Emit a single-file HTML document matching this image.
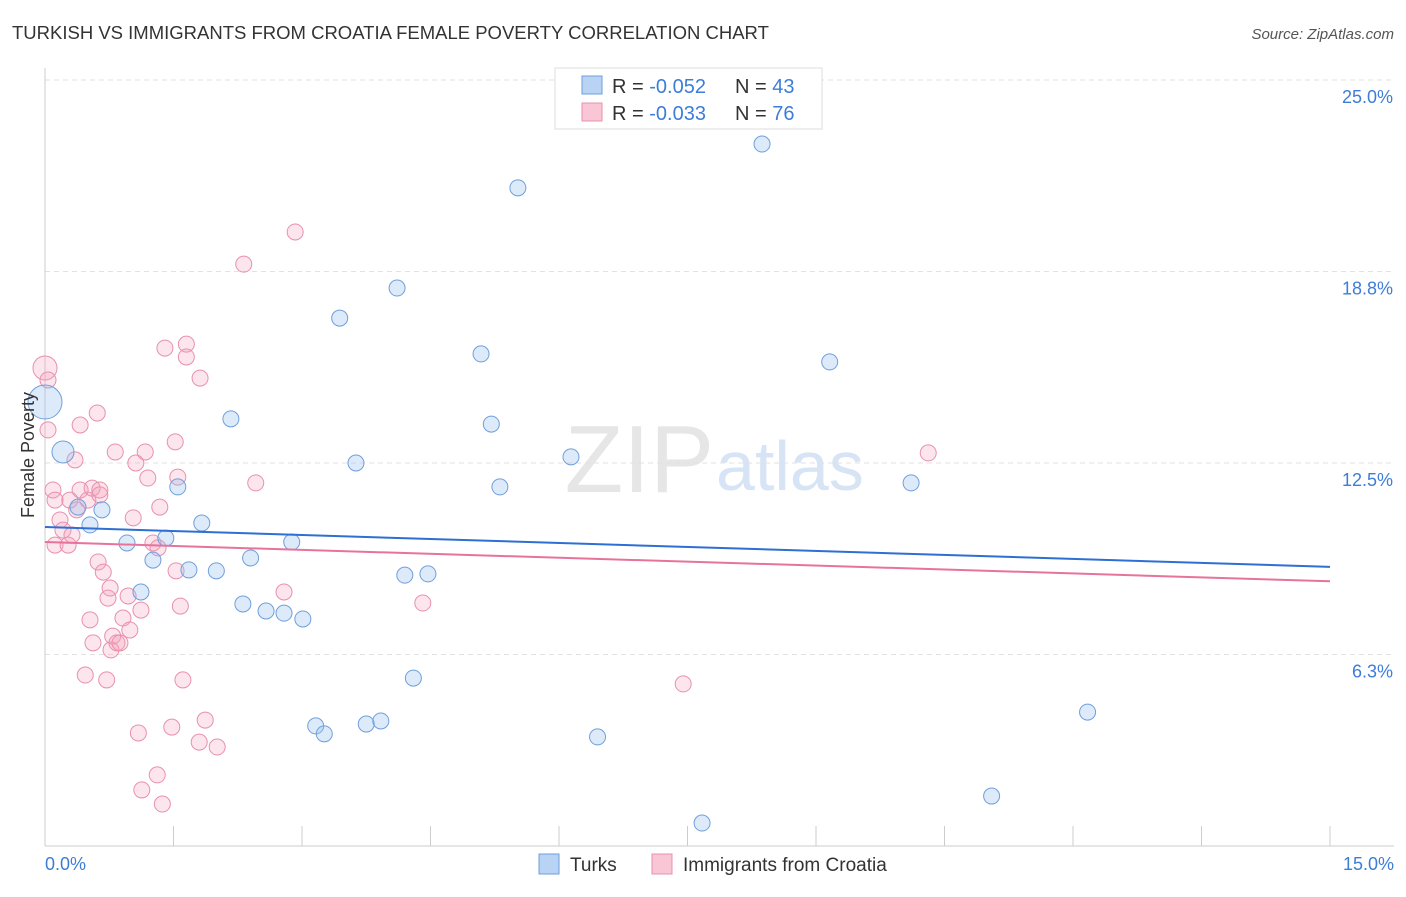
<!DOCTYPE html>
<html><head><meta charset="utf-8"><style>
body{margin:0;background:#fff;font-family:"Liberation Sans",sans-serif}
svg text{font-family:"Liberation Sans",sans-serif}
</style></head><body>
<svg id="c" width="1406" height="892">
<text x="12" y="39" font-size="18.5" fill="#333">TURKISH VS IMMIGRANTS FROM CROATIA FEMALE POVERTY CORRELATION CHART</text>
<text x="1394" y="39" font-size="15" fill="#555" text-anchor="end" font-style="italic">Source: ZipAtlas.com</text>
<text x="714" y="492" font-size="96" fill="#e6e6e6" text-anchor="end" font-family="Liberation Serif">ZIP</text>
<text x="716" y="490" font-size="70" fill="#d7e4f5">atlas</text>
<g id="grid"></g><g id="axes"></g><g id="pts"></g><g id="lines"></g>
<text transform="translate(34,455) rotate(-90)" font-size="18" fill="#333" text-anchor="middle">Female Poverty</text>
<g>
<rect x="555" y="68" width="267" height="61" fill="#fff" stroke="#ddd"/>
<rect x="582" y="76" width="20" height="18" fill="#b8d3f4" stroke="#6f9fdc"/>
<rect x="582" y="103" width="20" height="18" fill="#f9c6d6" stroke="#e890ae"/>
<text x="612" y="93" font-size="20" fill="#333">R = <tspan fill="#3d7dd8">-0.052</tspan></text>
<text x="735" y="93" font-size="20" fill="#333">N = <tspan fill="#3d7dd8">43</tspan></text>
<text x="612" y="120" font-size="20" fill="#333">R = <tspan fill="#3d7dd8">-0.033</tspan></text>
<text x="735" y="120" font-size="20" fill="#333">N = <tspan fill="#3d7dd8">76</tspan></text>
</g>
<g>
<rect x="539" y="854" width="20" height="20" fill="#b8d3f4" stroke="#6f9fdc"/>
<text x="570" y="871" font-size="19" fill="#333">Turks</text>
<rect x="652" y="854" width="20" height="20" fill="#f9c6d6" stroke="#e890ae"/>
<text x="683" y="871" font-size="19" fill="#333">Immigrants from Croatia</text>
</g>
<text x="45" y="870" font-size="18" fill="#3d7dd8">0.0%</text>
<text x="1394" y="870" font-size="18" fill="#3d7dd8" text-anchor="end">15.0%</text>
</svg>
<script>
const yTicks=[25.0,18.75,12.5,6.25];
const yTickLabels=["25.0%","18.8%","12.5%","6.3%"];
const turksX=[0,0.21,0.385,0.525,0.665,0.957,1.12,1.26,1.41,1.55,1.68,1.83,2.00,2.17,2.31,2.40,2.58,2.79,2.88,3.01,3.16,3.26,3.44,3.63,3.75,3.92,4.11,4.20,4.30,4.47,5.09,5.21,5.31,5.52,6.14,6.45,7.67,8.37,9.16,10.11,11.05,12.17];
const turksY=[14.49,12.86,11.06,10.48,10.97,9.89,8.29,9.33,10.05,11.72,9.01,10.54,8.98,13.94,7.90,9.40,7.67,7.60,9.92,7.41,3.92,3.66,17.23,12.50,3.98,4.08,18.21,8.84,5.48,8.88,16.06,13.77,11.72,21.48,12.70,3.56,0.75,22.91,15.80,11.85,1.63,4.37];
const croX=[0,0.035,0.035,0.093,0.117,0.117,0.175,0.21,0.27,0.29,0.315,0.35,0.37,0.41,0.41,0.47,0.50,0.525,0.55,0.56,0.61,0.62,0.64,0.64,0.68,0.72,0.735,0.76,0.77,0.79,0.82,0.84,0.875,0.91,0.97,0.99,1.03,1.06,1.09,1.12,1.13,1.17,1.20,1.26,1.31,1.32,1.34,1.37,1.40,1.48,1.52,1.53,1.55,1.58,1.61,1.65,1.65,1.80,1.81,1.87,2.01,2.32,2.46,2.79,2.92,4.41,7.45,10.31];
const croY=[15.60,15.21,13.58,11.62,11.29,9.82,10.64,10.31,9.82,11.29,10.15,12.60,10.97,13.74,11.62,5.58,11.29,7.38,11.68,6.63,14.13,9.27,11.62,11.46,8.94,5.42,8.09,8.42,6.40,6.85,12.86,6.63,6.63,7.44,8.16,7.05,10.71,12.50,3.69,7.70,1.83,12.86,12.01,9.89,2.32,9.73,11.06,1.37,16.25,3.88,13.19,8.98,12.04,7.83,5.42,16.38,15.96,3.39,15.27,4.11,3.23,18.99,11.85,8.29,20.04,7.93,5.29,12.83];
const turksTrend=[10.41,9.11];
const croTrend=[9.92,8.64];
const NS="http://www.w3.org/2000/svg";
const X=v=>45+v/15*1285, Y=v=>846-v*30.64;
function mk(p,t,a){const e=document.createElementNS(NS,t);for(const k in a)e.setAttribute(k,a[k]);document.getElementById(p).appendChild(e);return e;}
yTicks.forEach((t,i)=>{
 const g=mk('grid','line',{x1:45,x2:1394,y1:Y(t),y2:Y(t),stroke:'#e2e2e2','stroke-dasharray':'5,4'});
 
 
 const l=mk('grid','text',{x:1393,y:Y(t)+23,'font-size':18,fill:'#3d7dd8','text-anchor':'end'});
 l.textContent=yTickLabels[i];
 
 
});
const ax=mk('axes','line',{x1:45,x2:45,y1:68,y2:846,stroke:'#ccc'});


const bx=mk('axes','line',{x1:45,x2:1394,y1:846,y2:846,stroke:'#ccc'});


for(let i=0;i<=10;i++){const t=mk('axes','line',{x1:X(i*1.5),x2:X(i*1.5),y1:826,y2:846,stroke:'#ccc'});
 
 }
croX.forEach((x,i)=>{const c=mk('pts','circle',{cx:X(x),cy:Y(croY[i]),r:i==0?12:8,fill:'rgba(244,160,188,0.28)',stroke:'#e890ae','stroke-width':1});
 
 });
turksX.forEach((x,i)=>{const c=mk('pts','circle',{cx:X(x),cy:Y(turksY[i]),r:i==0?17:(i==1?11:8),fill:'rgba(150,190,240,0.33)',stroke:'#6f9fdc','stroke-width':1});
 
 });
const tl=mk('lines','line',{x1:X(0),x2:X(15),y1:Y(turksTrend[0]),y2:Y(turksTrend[1]),stroke:'#2e6fd4','stroke-width':2});


const cl=mk('lines','line',{x1:X(0),x2:X(15),y1:Y(croTrend[0]),y2:Y(croTrend[1]),stroke:'#e7739b','stroke-width':2});


</script>
</body></html>
